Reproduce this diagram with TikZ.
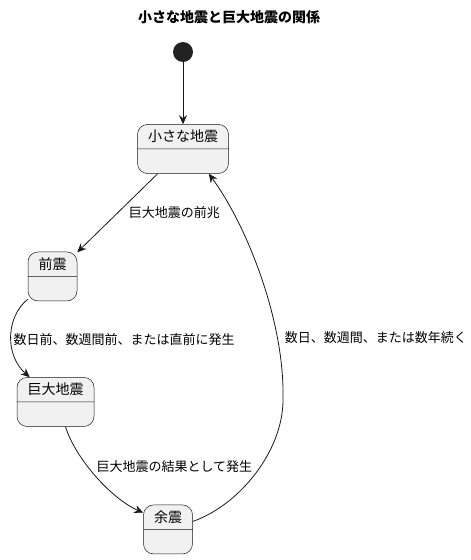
\documentclass[tikz,border=0pt]{standalone}
\usepackage{fontspec}
\setmainfont{Noto Sans CJK JP}
\usetikzlibrary{positioning,shapes.multipart,arrows.meta}
\definecolor{statefill}{HTML}{F1F1F1}
\definecolor{lineclr}{HTML}{181818}
\definecolor{initclr}{HTML}{222222}
\tikzset{
  state/.style={rectangle split, rectangle split parts=2, draw=lineclr, line width=0.5pt,
    fill=statefill, rounded corners=10pt, font=\fontsize{14}{16}\selectfont,
    inner ysep=5.5pt, inner xsep=10.5pt, text height=11.3pt, text depth=1.7pt,
    rectangle split empty part height=11.3pt, rectangle split empty part depth=1.7pt},
  init/.style={circle, fill=initclr, minimum size=20pt, inner sep=0pt},
  edge/.style={draw=lineclr, line width=0.8pt, -{Stealth[length=9pt,width=8pt,inset=3pt]}},
  lbl/.style={font=\fontsize{13}{15}\selectfont, inner sep=0pt},
}
\begin{document}
\begin{tikzpicture}[x=1pt, y=1pt]
\useasboundingbox (0,0) rectangle (471,-560);
\node[style=lbl, font=\bfseries\fontsize{14}{16}\selectfont](title) at (229,-17){小さな地震と巨大地震の関係};
\node[style=init](init) at (183,-52){};
\node[style=state, below=62pt of init](small){小さな地震\nodepart{two}};
\node[style=state, below left=78pt and 60pt of small](fore){前震\nodepart{two}};
\node[style=state, below=76pt of fore, xshift=3pt](main){巨大地震\nodepart{two}};
\node[style=state, below right=78pt and 49pt of main](after){余震\nodepart{two}};
\coordinate (bend) at (283,-400);
\draw[style=edge] (init) -- (small);
\draw[style=edge] (small) -- node[style=lbl, pos=0.5, anchor=west, xshift=11pt]{巨大地震の前兆} (fore);
\draw[style=edge] ([yshift=2pt]fore.south west) .. controls +(-22,-18) and +(-25,22) ..
  node[style=lbl, pos=0.5, anchor=west, xshift=2pt, yshift=-3pt]{数日前、数週間前、または直前に発生} ([xshift=13pt]main.north west);
\draw[style=edge] ([xshift=10pt]main.south) .. controls +(10,-32) and +(-32,14) ..
  node[style=lbl, pos=0.5, anchor=west, yshift=10pt]{巨大地震の結果として発生} ([yshift=-8pt]after.north west);
\draw[style=edge] ([yshift=8pt]after.east) .. controls +(48,17) and +(0,-50) .. (bend)
  .. controls +(2,80) and +(37,-50) ..
  node[style=lbl, pos=0.25, anchor=west, xshift=7pt]{数日、数週間、または数年続く} ([xshift=-20pt]small.south east);
\end{tikzpicture}
\end{document}
